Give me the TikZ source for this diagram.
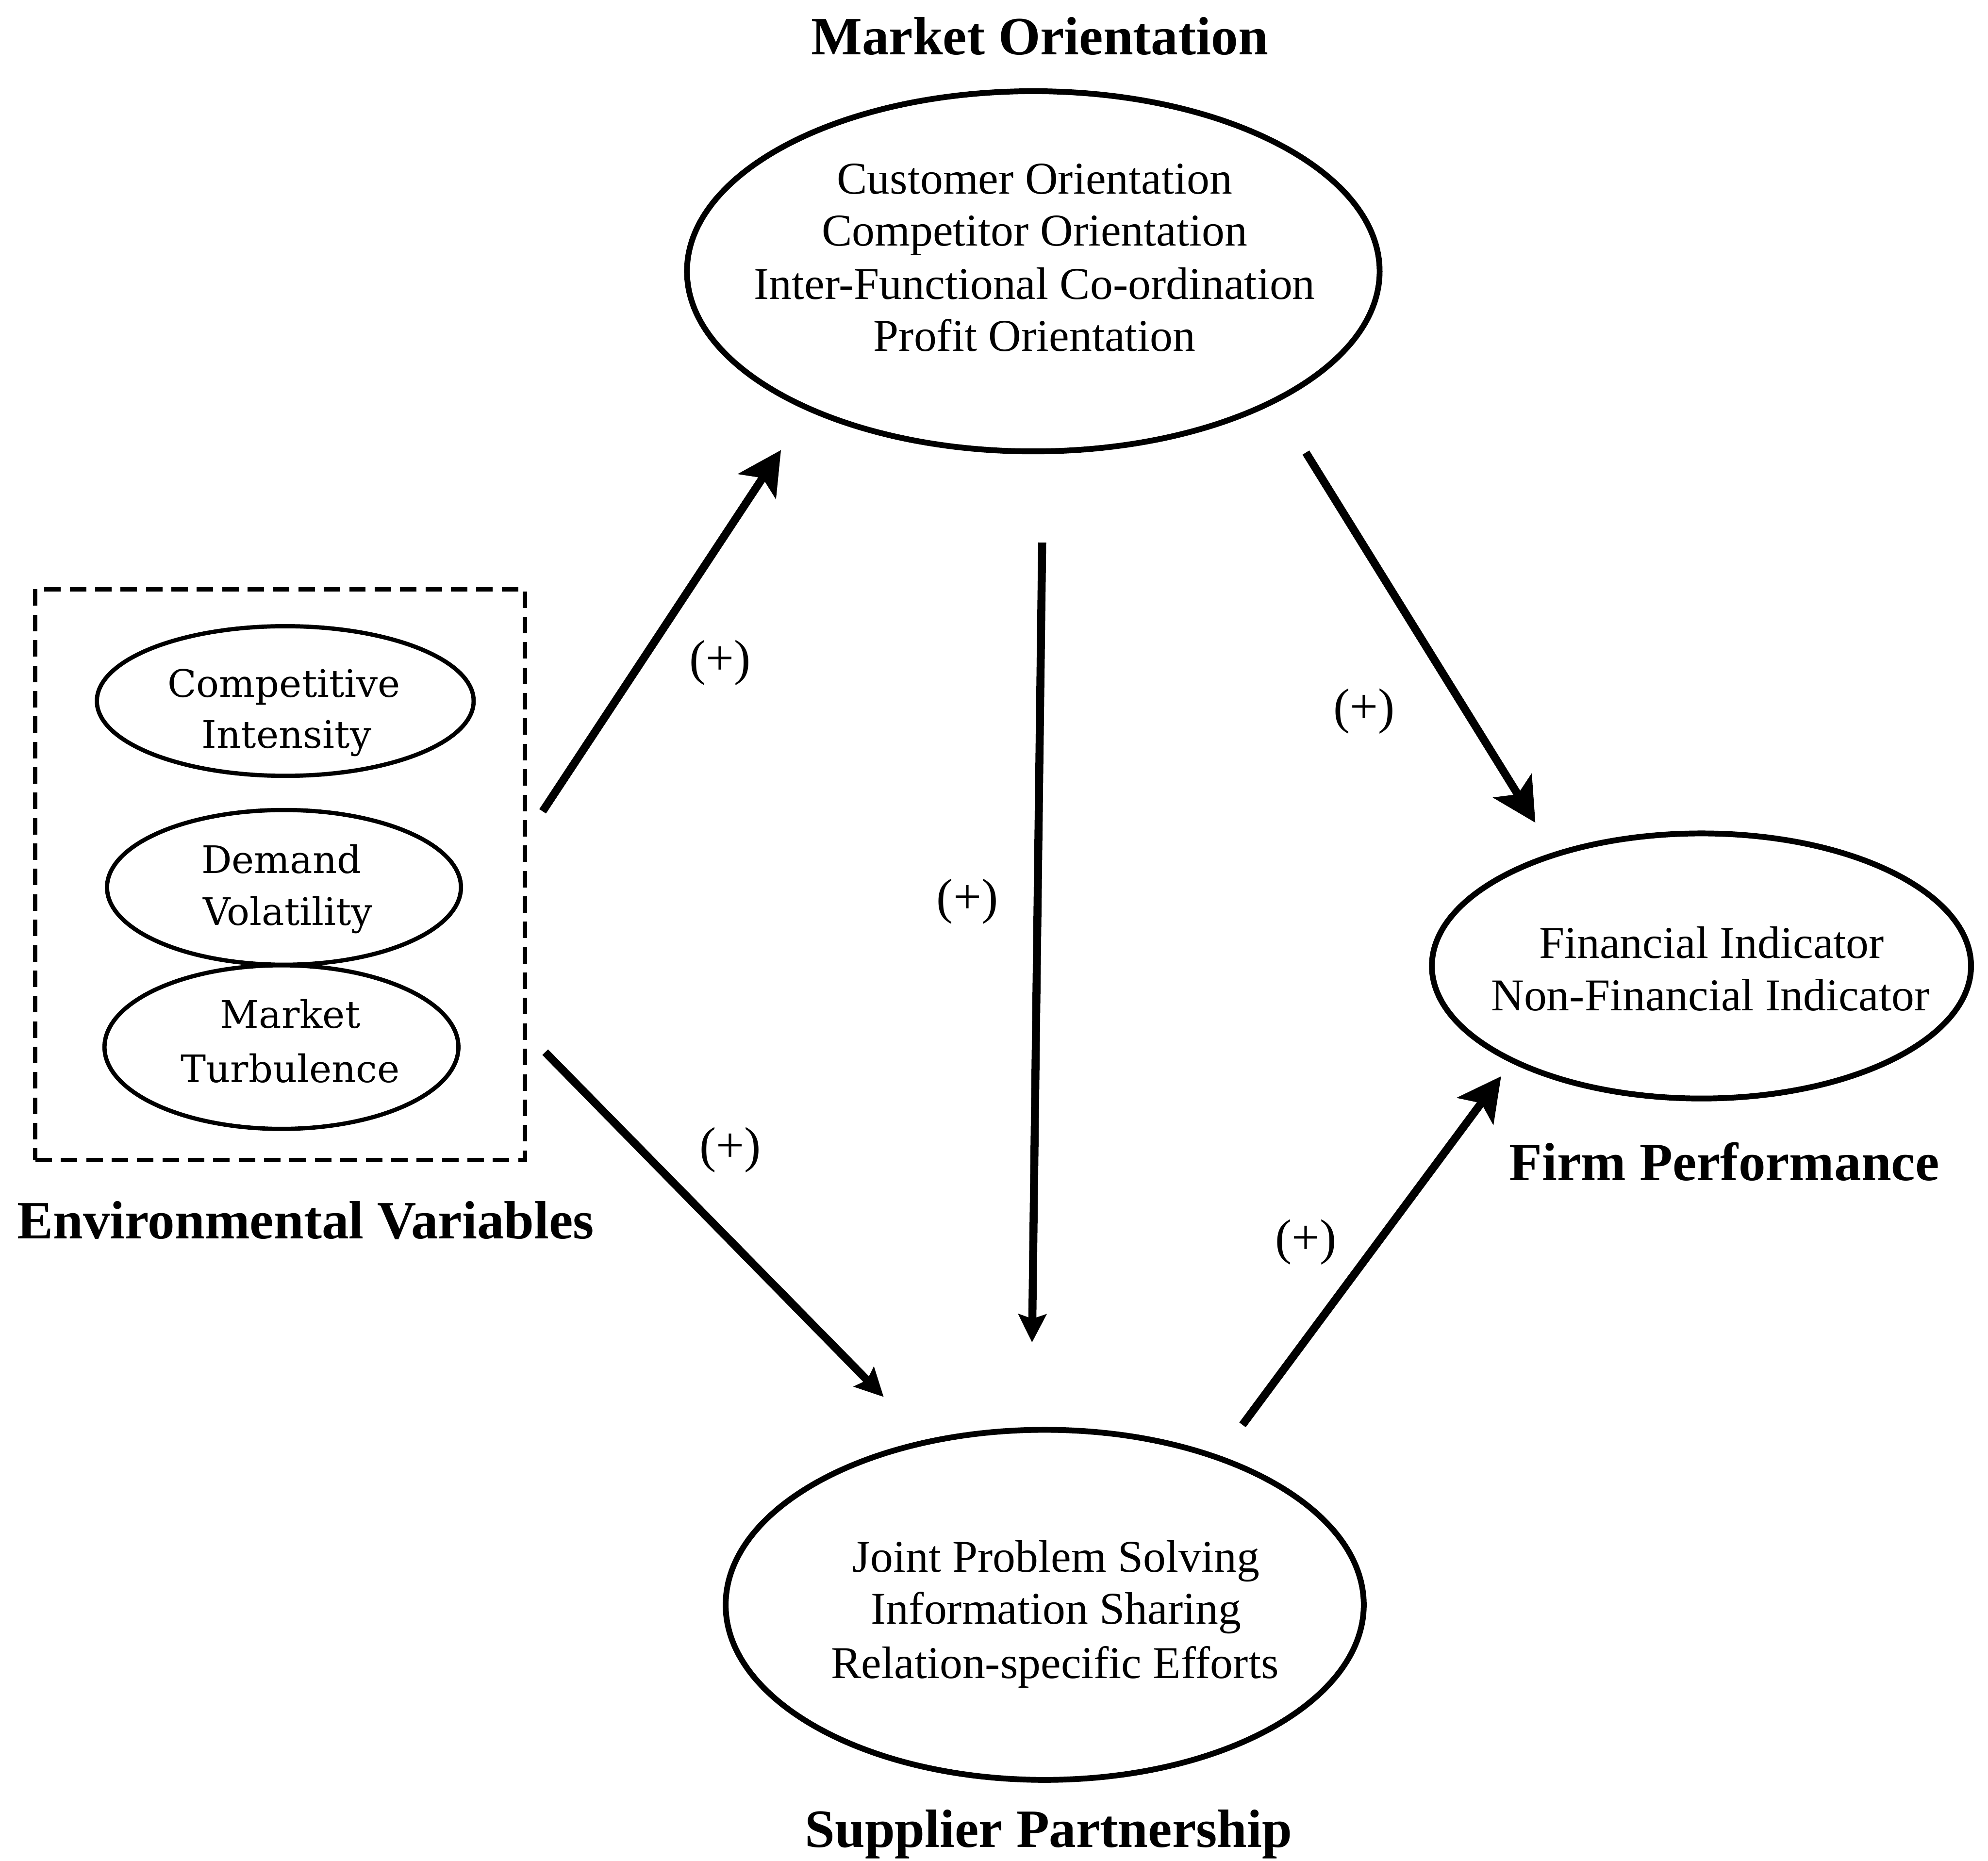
\documentclass[tikz,border=0pt]{standalone}
\usepackage{fontspec}
\setmainfont{Liberation Serif}
\newfontfamily\envfont{DejaVu Serif}
\usetikzlibrary{shapes.geometric,arrows.meta}

\tikzset{
  bigell/.style={draw, ellipse, line width=1.3pt, inner sep=0pt},
  smallell/.style={draw, ellipse, line width=0.95pt, inner sep=0pt},
  item/.style={anchor=base, inner sep=0pt, font=\fontsize{10.2pt}{11.7pt}\selectfont},
  envitem/.style={anchor=base, inner sep=0pt, font=\envfont\fontsize{8.5pt}{11.7pt}\selectfont},
  heading/.style={anchor=base, inner sep=0pt, font=\bfseries\fontsize{12.1pt}{14pt}\selectfont},
  sign/.style={anchor=center, inner sep=0pt, font=\fontsize{11.2pt}{13pt}\selectfont},
  envbox/.style={draw, dash pattern=on 3.7pt off 2pt, line width=1pt},
  bigarrow/.style={line width=1.8pt, -{Stealth[length=9.7pt, width=10pt, inset=2.2pt]}},
  smallarrow/.style={line width=1.8pt, -{Stealth[length=6.3pt, width=6.2pt, inset=1pt]}},
}

\begin{document}
\begin{tikzpicture}[x=0.01cm, y=-0.01cm]
\useasboundingbox (0,0) rectangle (1568,1468);

% Market orientation
\node[heading] (moT) at (820,43) {Market Orientation};
\node[bigell, minimum width=5.46cm, minimum height=2.84cm] (mo) at (815,214) {};
\node[item] (mo1) at (816,153) {Customer Orientation};
\node[item] (mo2) at (816,194) {Competitor Orientation};
\node[item] (mo3) at (816,236) {Inter-Functional Co-ordination};
\node[item] (mo4) at (816,277) {Profit Orientation};

% Environmental variables
\node[envbox, minimum width=3.86cm, minimum height=4.50cm, inner sep=0pt] (env) at (221,690) {};
\node[smallell, minimum width=2.97cm, minimum height=1.18cm] (ci) at (225,553) {};
\node[envitem] (ci1) at (224,550) {Competitive};
\node[envitem] (ci2) at (226,590) {Intensity};
\node[smallell, minimum width=2.79cm, minimum height=1.22cm] (dv) at (224,700) {};
\node[envitem] (dv1) at (222,689) {Demand};
\node[envitem] (dv2) at (227,730) {Volatility};
\node[smallell, minimum width=2.79cm, minimum height=1.29cm] (mt) at (222,826) {};
\node[envitem] (mt1) at (229,811) {Market};
\node[envitem] (mt2) at (229,854) {Turbulence};
\node[heading] (envT) at (241,977) {Environmental Variables};

% Firm performance
\node[bigell, minimum width=4.25cm, minimum height=2.09cm] (fp) at (1342,762) {};
\node[item] (fp1) at (1350,756) {Financial Indicator};
\node[item] (fp2) at (1349,797) {Non-Financial Indicator};
\node[heading] (fpT) at (1360,931) {Firm Performance};

% Supplier partnership
\node[bigell, minimum width=5.03cm, minimum height=2.76cm] (sp) at (824,1266) {};
\node[item] (sp1) at (833,1240) {Joint Problem Solving};
\node[item] (sp2) at (833,1281) {Information Sharing};
\node[item] (sp3) at (832,1324) {Relation-specific Efforts};
\node[heading] (spT) at (827,1457) {Supplier Partnership};

% Arrow end points
\coordinate (a1s) at (428,640);  \coordinate (a1e) at (616,355);
\coordinate (a2s) at (1030,357); \coordinate (a2e) at (1211,649);
\coordinate (a3s) at (822,428);  \coordinate (a3e) at (814,1059);
\coordinate (a4s) at (430,830);  \coordinate (a4e) at (697,1102);
\coordinate (a5s) at (980,1124); \coordinate (a5e) at (1184,849);

\draw[bigarrow] (a1s) -- (a1e);
\draw[bigarrow] (a2s) -- (a2e);
\draw[smallarrow] (a3s) -- (a3e);
\draw[smallarrow] (a4s) -- (a4e);
\draw[bigarrow] (a5s) -- (a5e);

% Signs of the relations
\node[sign] (s1) at (568,523) {(+)};
\node[sign] (s2) at (1076,561) {(+)};
\node[sign] (s3) at (763,711) {(+)};
\node[sign] (s4) at (576,907) {(+)};
\node[sign] (s5) at (1030,980) {(+)};
\end{tikzpicture}
\end{document}
